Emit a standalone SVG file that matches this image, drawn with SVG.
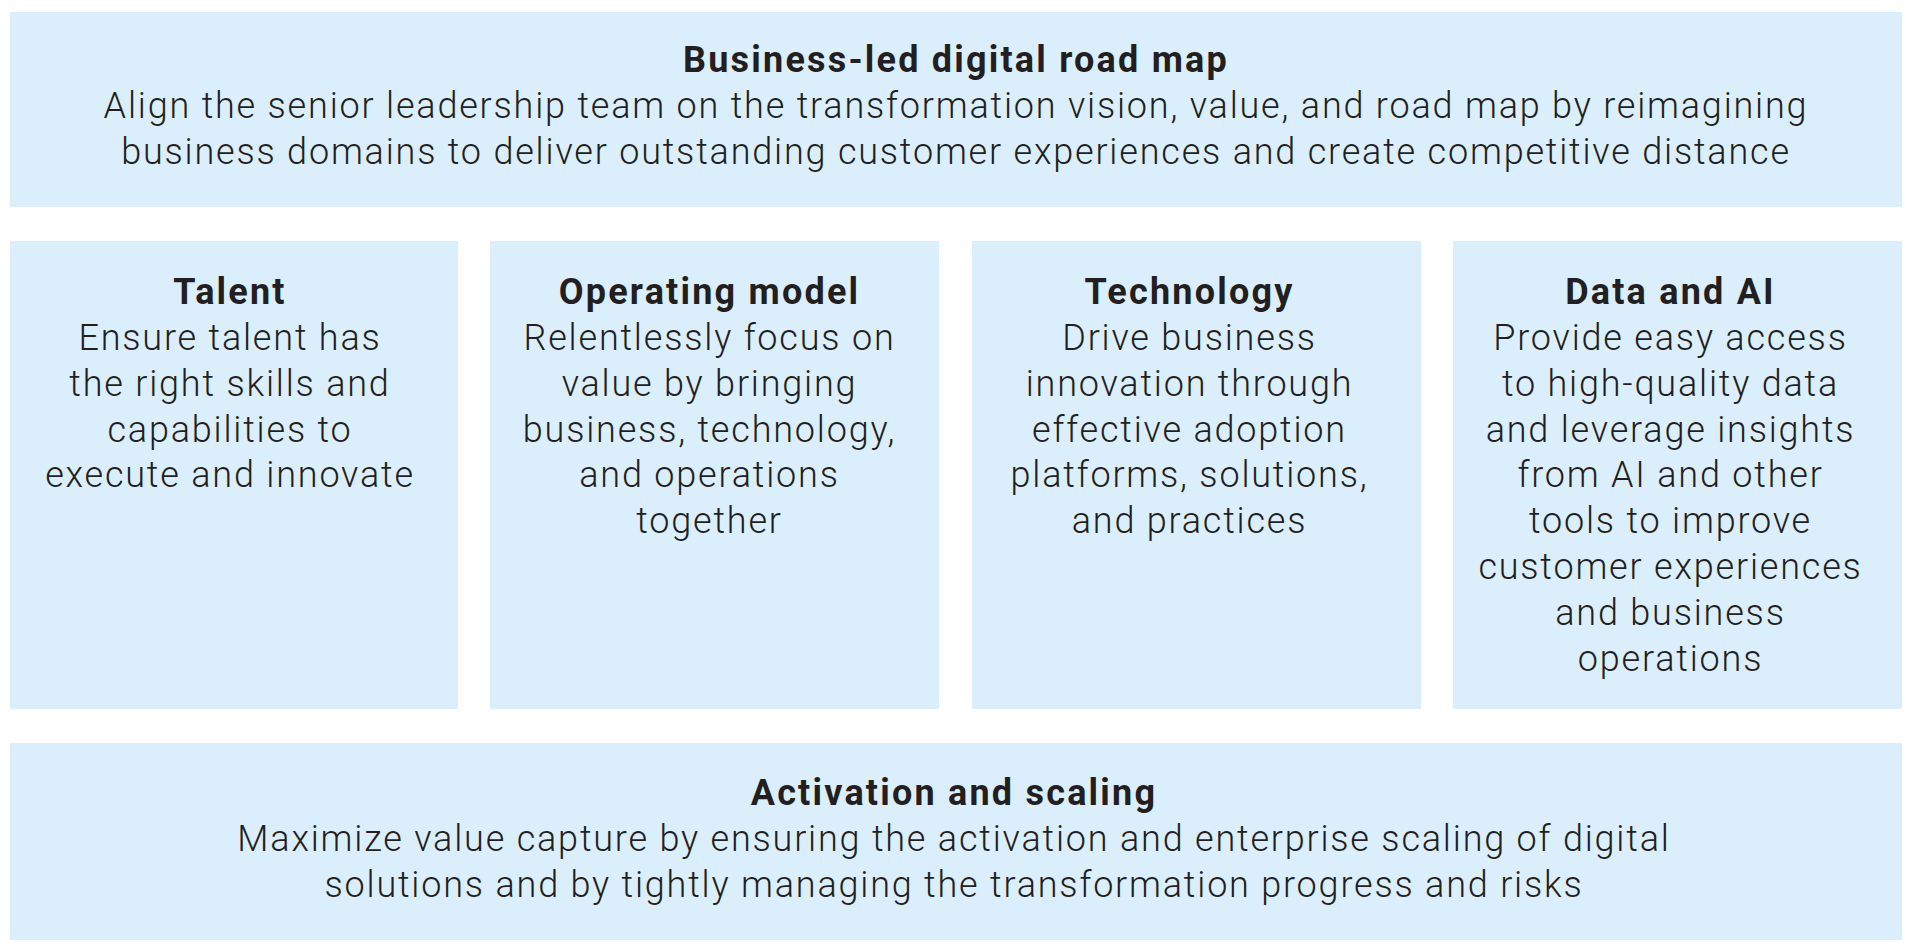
<svg xmlns="http://www.w3.org/2000/svg" width="1906" height="944" viewBox="0 0 1906 944">
<style>
.box{fill:#dbeefc}
.t{font-family:Roboto,"Liberation Sans",Arial,sans-serif;font-size:36px;fill:#231f20;text-anchor:middle;letter-spacing:1.8px}
.b{font-weight:700;letter-spacing:2.2px}
.r{font-weight:300}
</style>
<rect width="1906" height="944" fill="#ffffff"/>
<g id="connectors"/>
<g id="roadmap">
<rect class="box" x="10" y="12" width="1892" height="195"/>
<text class="t b" x="956" y="72">Business-led digital road map</text>
<text class="t r" x="956" y="118">Align the senior leadership team on the transformation vision, value, and road map by reimagining</text>
<text class="t r" x="956" y="164">business domains to deliver outstanding customer experiences and create competitive distance</text>
</g>
<g id="talent">
<rect class="box" x="10" y="241" width="448" height="468"/>
<text class="t b" x="230" y="304">Talent</text>
<text class="t r" x="230" y="350">Ensure talent has</text>
<text class="t r" x="230" y="396">the right skills and</text>
<text class="t r" x="230" y="442">capabilities to</text>
<text class="t r" x="230" y="487">execute and innovate</text>
</g>
<g id="operating-model">
<rect class="box" x="490" y="241" width="449" height="468"/>
<text class="t b" x="709.5" y="304">Operating model</text>
<text class="t r" x="709.5" y="350">Relentlessly focus on</text>
<text class="t r" x="709.5" y="396">value by bringing</text>
<text class="t r" x="709.5" y="442">business, technology,</text>
<text class="t r" x="709.5" y="487">and operations</text>
<text class="t r" x="709.5" y="533">together</text>
</g>
<g id="technology">
<rect class="box" x="972" y="241" width="449" height="468"/>
<text class="t b" x="1189.5" y="304">Technology</text>
<text class="t r" x="1189.5" y="350">Drive business</text>
<text class="t r" x="1189.5" y="396">innovation through</text>
<text class="t r" x="1189.5" y="442">effective adoption</text>
<text class="t r" x="1189.5" y="487">platforms, solutions,</text>
<text class="t r" x="1189.5" y="533">and practices</text>
</g>
<g id="data-ai">
<rect class="box" x="1453" y="241" width="449" height="468"/>
<text class="t b" x="1670.5" y="304">Data and AI</text>
<text class="t r" x="1670.5" y="350">Provide easy access</text>
<text class="t r" x="1670.5" y="396">to high-quality data</text>
<text class="t r" x="1670.5" y="442">and leverage insights</text>
<text class="t r" x="1670.5" y="487">from AI and other</text>
<text class="t r" x="1670.5" y="533">tools to improve</text>
<text class="t r" x="1670.5" y="579">customer experiences</text>
<text class="t r" x="1670.5" y="625">and business</text>
<text class="t r" x="1670.5" y="671">operations</text>
</g>
<g id="activation">
<rect class="box" x="10" y="743" width="1892" height="197"/>
<text class="t b" x="954" y="805">Activation and scaling</text>
<text class="t r" x="954" y="851">Maximize value capture by ensuring the activation and enterprise scaling of digital</text>
<text class="t r" x="954" y="897">solutions and by tightly managing the transformation progress and risks</text>
</g>
</svg>
